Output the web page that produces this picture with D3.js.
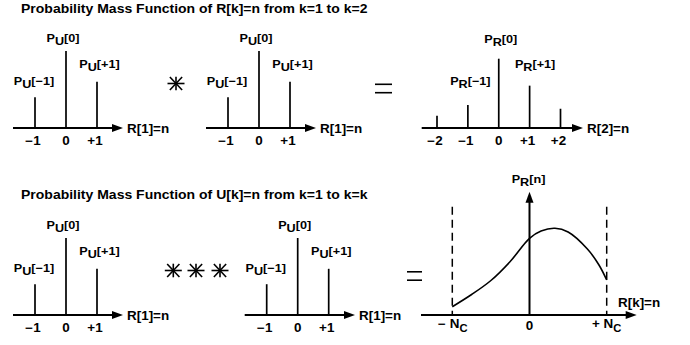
<!DOCTYPE html>
<html>
<head>
<meta charset="utf-8">
<script src="https://cdn.jsdelivr.net/npm/d3@7"></script>
<style>
  html, body { margin: 0; padding: 0; background: #fff; }
  svg { display: block; }
  text { font-family: "Liberation Sans", Arial, sans-serif; font-weight: bold; fill: #000; }
</style>
</head>
<body>
<svg id="chart" width="690" height="345"></svg>
<script>
// Step PMF of one update U[k]: P_U[-1], P_U[0], P_U[+1]
const stepsU = [-1, 0, 1];
const pmfU = [0.2, 0.5, 0.3];
const stepTickLabels = ["−1", "0", "+1"];
const stepIndexLabels = ["[−1]", "[0]", "[+1]"];

// PMF of R[2] after two updates
const stepsR2 = [-2, -1, 0, 1, 2];
const pmfR2 = [0.08, 0.15, 0.45, 0.275, 0.125];
const r2TickLabels = ["−2", "−1", "0", "+1", "+2"];

// Envelope of P_R[n] after k updates, n normalised to ±N_C
const envN = [-1, -0.75, -0.5, -0.25, 0, 0.15, 0.33, 0.5, 0.75, 0.9, 1];
const envP = [0.083, 0.205, 0.345, 0.535, 0.767, 0.84, 0.867, 0.83, 0.66, 0.50, 0.35];

const titles = [
  "Probability Mass Function of R[k]=n from k=1 to k=2",
  "Probability Mass Function of U[k]=n from k=1 to k=k"
];

const svg = d3.select("#chart");
const SX = 1.12;           // horizontal stretch of the lettering
const stemH = d3.scaleLinear().domain([0, 1]).range([0, 154]);

function putText(x, y, anchor, size, segs) {
  const t = svg.append("text")
    .attr("transform", `translate(${x},${y}) scale(${SX},1)`)
    .attr("text-anchor", anchor)
    .style("font-size", size + "px");
  segs.forEach(s => {
    const sp = t.append("tspan").text(s.t);
    if (s.dy) sp.attr("dy", s.dy);
    if (s.size) sp.style("font-size", s.size + "px");
  });
  return t;
}

function arrowRight(xTip, y) {
  svg.append("path")
    .attr("d", `M${xTip},${y} L${xTip - 11},${y - 4} L${xTip - 11},${y + 4} Z`)
    .attr("fill", "#000");
}
function arrowUp(x, yTip) {
  svg.append("path")
    .attr("d", `M${x},${yTip} L${x - 4},${yTip + 11} L${x + 4},${yTip + 11} Z`)
    .attr("fill", "#000");
}

function axisLine(x0, x1, y) {
  svg.append("line").attr("x1", x0).attr("x2", x1 - 6).attr("y1", y).attr("y2", y)
    .attr("stroke", "#000").attr("stroke-width", 2.2);
  arrowRight(x1, y);
}

// One stem plot: a horizontal axis with vertical stems
function stemPanel(opts) {
  const x = d3.scaleLinear().domain(opts.domain).range(opts.range);
  const y0 = opts.baseY;
  axisLine(opts.axisX0, opts.axisX1, y0);
  putText(opts.axisX1 + 4, y0 + 5, "start", 12, [{ t: opts.axisTitle }]);

  svg.append("g").selectAll("line").data(opts.steps).join("line")
    .attr("x1", d => x(d)).attr("x2", d => x(d))
    .attr("y1", y0).attr("y2", (d, i) => y0 - stemH(opts.values[i]))
    .attr("stroke", "#000").attr("stroke-width", 1.7);

  opts.steps.forEach((d, i) => {
    const lab = opts.ticks[i];
    const dx = lab.startsWith("−") || lab.startsWith("+") ? -2 : 0;
    putText(x(d) + dx, y0 + 17, "middle", 12, [{ t: lab }]);
  });

  opts.labels.forEach(l => {
    putText(x(l.step) + l.dx, y0 - l.up, "middle", 11.3,
      [{ t: "P" }, { t: opts.sub, dy: 3 }, { t: l.text, dy: -3 }]);
  });
}

function star(cx, cy) {
  const rx = 8.5, ry = 6.8;
  const g = svg.append("g").attr("stroke", "#000").attr("stroke-width", 1.6);
  [[rx, 0], [0, ry], [rx * 0.72, ry * 0.95], [rx * 0.72, -ry * 0.95]].forEach(([dx, dy]) => {
    g.append("line").attr("x1", cx - dx).attr("x2", cx + dx).attr("y1", cy - dy).attr("y2", cy + dy);
  });
}
function equals(x0, x1, yc) {
  [-4.2, 4.2].forEach(o => svg.append("line").attr("x1", x0).attr("x2", x1)
    .attr("y1", yc + o).attr("y2", yc + o).attr("stroke", "#000").attr("stroke-width", 1.6));
}

const topY = 128, botY = 315;
const uLabels = stepsU.map((s, i) => ({
  step: s, text: stepIndexLabels[i],
  dx: [-1, -3, 2.5][i], up: [43, 86, 60][i]
}));

// Titles
putText(21, 13, "start", 12.5, [{ t: titles[0] }]);
putText(21, 199, "start", 12.5, [{ t: titles[1] }]);

// Top row: P_U * P_U = P_R(2)
stemPanel({ domain: [-1, 1], range: [35, 97], baseY: topY, axisX0: 13, axisX1: 123,
  axisTitle: "R[1]=n", steps: stepsU, values: pmfU, ticks: stepTickLabels, sub: "U", labels: uLabels });
star(176, 83.5);
stemPanel({ domain: [-1, 1], range: [228, 290], baseY: topY, axisX0: 206, axisX1: 316,
  axisTitle: "R[1]=n", steps: stepsU, values: pmfU, ticks: stepTickLabels, sub: "U", labels: uLabels });
equals(375, 392, 88.5);
stemPanel({ domain: [-2, 2], range: [437, 560.5], baseY: topY, axisX0: 421.7, axisX1: 583,
  axisTitle: "R[2]=n", steps: stepsR2, values: pmfR2, ticks: r2TickLabels, sub: "R",
  labels: [
    { step: -1, text: "[−1]", dx: 2.5, up: 43 },
    { step: 0, text: "[0]", dx: 2, up: 85 },
    { step: 1, text: "[+1]", dx: 5.5, up: 60 }
  ] });

// Bottom row: P_U *** P_U = envelope
stemPanel({ domain: [-1, 1], range: [35, 97], baseY: botY, axisX0: 13, axisX1: 123,
  axisTitle: "R[1]=n", steps: stepsU, values: pmfU, ticks: stepTickLabels, sub: "U", labels: uLabels });
[173.3, 196, 220].forEach(cx => star(cx, 270.5));
stemPanel({ domain: [-1, 1], range: [266.7, 328.7], baseY: botY, axisX0: 244.7, axisX1: 355,
  axisTitle: "R[1]=n", steps: stepsU, values: pmfU, ticks: stepTickLabels, sub: "U", labels: uLabels });
equals(407, 422, 276);

// Envelope panel
const ex = d3.scaleLinear().domain([-1, 1]).range([452.3, 606.7]);
const ey = d3.scaleLinear().domain([0, 1]).range([botY, botY - 100]);
axisLine(421, 636.7, botY);
svg.append("line").attr("x1", ex(0)).attr("x2", ex(0)).attr("y1", botY).attr("y2", 199)
  .attr("stroke", "#000").attr("stroke-width", 2);
arrowUp(ex(0), 191.7);
[-1, 1].forEach(n => svg.append("line").attr("x1", ex(n)).attr("x2", ex(n))
  .attr("y1", 206.7).attr("y2", botY).attr("stroke", "#000").attr("stroke-width", 1.5)
  .attr("stroke-dasharray", "8,5"));

svg.append("path")
  .datum(envN.map((n, i) => [n, envP[i]]))
  .attr("d", d3.line().x(d => ex(d[0])).y(d => ey(d[1])).curve(d3.curveCatmullRom.alpha(0.5)))
  .attr("fill", "none").attr("stroke", "#000").attr("stroke-width", 1.6);

putText(618, 306.7, "start", 12, [{ t: "R[k]=n" }]);
putText(ex(0) - 1, 183, "middle", 11.3, [{ t: "P" }, { t: "R", dy: 3 }, { t: "[n]", dy: -3 }]);
putText(ex(0), 330, "middle", 12, [{ t: "0" }]);
putText(ex(-1) + 0.5, 328, "middle", 12, [{ t: "− N" }, { t: "C", dy: 4, size: 10 }]);
putText(ex(1), 328, "middle", 12, [{ t: "+ N" }, { t: "C", dy: 4, size: 10 }]);
</script>
</body>
</html>
